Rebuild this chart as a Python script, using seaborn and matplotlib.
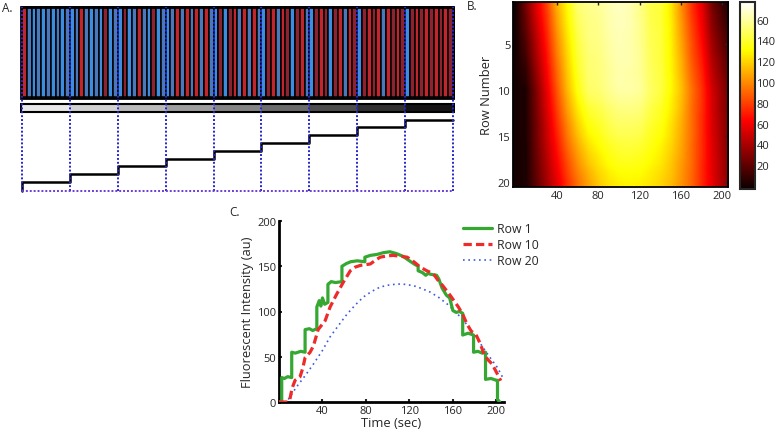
import numpy as np
import pandas as pd
import matplotlib
matplotlib.use("Agg")
import matplotlib.pyplot as plt
from matplotlib.patches import Rectangle
import seaborn as sns

# ---------------- data ----------------
# Panel A: stripe colours per segment (R = red channel, B = blue channel)
segment_patterns = ["RBBBBBBBBB", "BBRBBBBRBB", "BRBBRBBRBB", "BBRBRBRBRB",
                    "BRBRRBRBRB", "BRRBRRBRRB", "BRRRBRRBRR", "BRRRRBRRRR",
                    "BRRRRRRRRR"]
gray_levels = [0.91, 0.82, 0.73, 0.62, 0.52, 0.42, 0.30, 0.19, 0.08]
step_levels = [1, 2, 3, 4, 5, 6, 7, 8, 9]

# Panel B: heat map (rows 1..20, time columns every 10 s)
hm_times = [0, 10, 20, 30, 40, 50, 60, 70, 80, 90, 100, 110, 120, 130, 140,
            150, 160, 170, 180, 190, 200, 210]
hm_rows = [
    [0, 27, 55, 80, 110, 131, 151, 156, 158, 163, 166, 163, 156, 144, 141, 126, 101, 76, 56, 26, 10, 0],
    [0, 24, 52, 77, 107, 129, 149, 155, 157, 162, 165, 163, 156, 145, 141, 126, 102, 78, 58, 29, 13, 2],
    [0, 22, 49, 75, 105, 127, 147, 154, 156, 162, 165, 163, 157, 145, 141, 127, 104, 80, 60, 31, 15, 4],
    [0, 19, 46, 72, 102, 125, 145, 154, 156, 161, 164, 162, 157, 146, 142, 127, 105, 82, 62, 34, 18, 6],
    [0, 16, 43, 70, 99, 123, 143, 153, 155, 160, 164, 162, 157, 146, 142, 128, 107, 84, 64, 37, 20, 8],
    [0, 14, 41, 67, 97, 121, 142, 152, 154, 160, 163, 162, 158, 147, 142, 128, 108, 85, 67, 39, 23, 10],
    [0, 11, 38, 65, 94, 119, 140, 151, 153, 159, 163, 162, 158, 147, 142, 129, 110, 87, 69, 42, 26, 12],
    [0, 8, 35, 62, 91, 117, 138, 151, 153, 158, 162, 161, 158, 148, 143, 129, 111, 89, 71, 45, 28, 14],
    [0, 6, 32, 60, 89, 115, 136, 150, 152, 158, 162, 161, 159, 148, 143, 130, 113, 91, 73, 47, 31, 16],
    [0, 3, 29, 57, 86, 113, 134, 149, 151, 157, 161, 161, 159, 149, 143, 130, 114, 93, 75, 50, 33, 18],
    [0, 3, 28, 55, 83, 109, 130, 145, 148, 154, 158, 158, 156, 147, 141, 128, 113, 93, 75, 51, 34, 19],
    [0, 3, 27, 53, 80, 106, 126, 140, 144, 150, 154, 155, 153, 144, 138, 127, 112, 92, 75, 51, 34, 19],
    [0, 3, 26, 51, 77, 102, 122, 136, 141, 147, 151, 151, 150, 142, 136, 125, 110, 92, 74, 52, 35, 20],
    [0, 3, 25, 49, 74, 98, 118, 132, 137, 144, 148, 148, 147, 139, 134, 123, 109, 92, 74, 52, 36, 21],
    [0, 3, 25, 48, 71, 95, 114, 128, 134, 141, 145, 145, 144, 137, 132, 122, 108, 92, 74, 53, 37, 22],
    [0, 2, 24, 46, 68, 91, 109, 123, 131, 137, 141, 142, 140, 135, 129, 120, 107, 91, 74, 54, 37, 22],
    [0, 2, 23, 44, 65, 87, 105, 119, 127, 134, 138, 139, 137, 132, 127, 118, 106, 91, 74, 54, 38, 23],
    [0, 2, 22, 42, 62, 83, 101, 115, 124, 131, 135, 135, 134, 130, 125, 116, 104, 91, 73, 55, 39, 24],
    [0, 2, 21, 40, 59, 80, 97, 110, 120, 127, 131, 132, 131, 127, 122, 115, 103, 90, 73, 55, 39, 24],
    [0, 2, 20, 38, 56, 76, 93, 106, 117, 124, 128, 129, 128, 125, 120, 113, 102, 90, 73, 56, 40, 25],
]
cbar_ticks = [20, 40, 60, 80, 100, 120, 140, 160]
cbar_labels = ["20", "40", "60", "80", "100", "120", "140", "60"]

# Panel C: intensity traces
row1_t = [0, 2.5, 2.5, 5, 8, 11.7, 11.7, 15, 20, 24, 24, 28, 31, 34.8, 34.8, 37, 38.5,
          40, 42, 45, 45, 48, 52, 57.9, 57.9, 62, 66, 72, 79, 79, 84, 90, 96, 102, 108,
          114, 120, 125, 128, 128, 132, 135, 137, 140, 145, 147, 150, 154, 157, 160, 163,
          166, 169, 169, 174, 179, 179, 183, 187, 190, 190, 195, 200, 201, 201, 203]
row1_v = [0, 0, 27, 26, 28, 27, 55, 54, 56, 55, 80, 81, 79, 81, 105, 112, 106,
          115, 108, 110, 130, 133, 132, 133, 150, 153, 155, 156, 155, 160, 162, 163, 165, 166, 164,
          161, 156, 152, 150, 145, 143, 140, 142, 141, 140, 136, 126, 118, 115, 101, 99,
          100, 98, 74, 76, 74, 55, 56, 54, 55, 25, 26, 24, 24, 3, 0]
row10_t = [0, 8, 10, 12, 14.8, 19.4, 22, 24, 28.6, 31.7, 36, 42.5, 47, 53, 59, 65.6, 70,
           75, 84, 88, 93, 100, 105, 112, 118, 124, 130, 136, 142, 146, 151, 158, 165,
           169, 173, 177, 181, 185, 188.6, 192, 196, 200, 204]
row10_v = [0, 0, 3, 15, 24, 28, 38, 49, 55, 62, 80, 90, 105, 119, 132, 145, 149,
           151, 152.5, 156, 160, 161.5, 162, 161, 160, 155, 149, 145, 141.7, 135, 128, 117, 105,
           97, 86, 78, 75, 65, 53, 47, 42, 33, 23.5]
row20_t = [0, 7, 16, 24, 31.7, 40, 47, 55, 62.5, 70, 77.6, 85, 93, 100, 108.7, 116,
           123.8, 131, 139, 147, 155, 162, 170, 178, 185.6, 193, 201, 205.6]
row20_v = [0, 0, 16.5, 29, 42, 57, 72, 85, 97, 107, 116, 122, 127, 129, 130.4, 130,
           128.5, 125.5, 121.5, 115.5, 108, 100, 90, 77, 64, 51, 38, 27.6]

# ---------------- figure ----------------
sns.set_style("white")
plt.rcParams["font.family"] = ["Open Sans", "DejaVu Sans"]
W, H = 775, 431
fig = plt.figure(figsize=(W / 100, H / 100), dpi=100)


def box(l, t, r, b):
    return [l / W, 1 - b / H, (r - l) / W, (b - t) / H]


# ---- Panel A ----
axA = fig.add_axes(box(20, 6, 455, 194))
axA.set_xlim(-0.42, 90.42)
axA.set_ylim(-2, 186)
axA.axis("off")

colors = {("R", 0): "#c2262d", ("R", 1): "#8c2330",
          ("B", 0): "#3c8ce0", ("B", 1): "#4a78ba"}
stripe_x, stripe_c = [], []
for s, pat in enumerate(segment_patterns):
    for j, ch in enumerate(pat):
        k = s * len(pat) + j
        stripe_x.append(k)
        stripe_c.append(colors[(ch, k % 2)])
axA.bar(stripe_x, 90, width=1.0, bottom=94, align="edge", color=stripe_c,
        edgecolor="black", linewidth=1.1, zorder=2)
axA.add_patch(Rectangle((-0.3, 93.5), 90.6, 91, fill=False, edgecolor="black",
                        linewidth=2.0, zorder=3))

seg_x = [10 * i for i in range(len(gray_levels))]
axA.bar(seg_x, 8, width=10, bottom=79, align="edge",
        color=[str(g) for g in gray_levels], edgecolor="none", zorder=2)
axA.add_patch(Rectangle((-0.3, 79), 90.6, 8, fill=False, edgecolor="black",
                        linewidth=1.5, zorder=3))

bounds = [10 * i for i in range(len(step_levels) + 1)]
step_y = [1.2 + 7.8 * lv for lv in step_levels]
xs = [0, 0] + bounds[1:-1] + [bounds[-1]]
ys = [0] + step_y + [step_y[-1]]
axA.step(xs, ys, where="post", color="black", linewidth=1.8, zorder=4)

axA.vlines(bounds, 0, 184, colors="#2626d0", linestyles=(0, (1, 1)),
           linewidth=1.4, zorder=5)
axA.hlines(0, 0, 90, colors="#6a3cd6", linestyles=(0, (1, 1)), linewidth=1.4,
           zorder=5)

fig.text(2 / W, 1 - 12 / H, "A.", fontsize=8.5, va="baseline", ha="left")
fig.text(467 / W, 1 - 10 / H, "B.", fontsize=8.5, va="baseline", ha="left")
fig.text(229 / W, 1 - 216 / H, "C.", fontsize=8.5, va="baseline", ha="left")

# ---- Panel B ----
axB = fig.add_axes(box(513, 3, 728, 188))
hm = np.array(hm_rows, dtype=float)
im = axB.imshow(hm, cmap="hot", aspect="auto", interpolation="bilinear",
                extent=(hm_times[0] - 5, hm_times[-1] + 5, len(hm_rows) + 0.5, 0.5),
                vmin=-3, vmax=177)
axB.set_xlim(-2.7, 205.8)
axB.set_ylim(20.5, 0.5)
axB.set_xticks([40, 80, 120, 160, 200])
axB.set_yticks([5, 10, 15, 20])
axB.tick_params(direction="in", top=True, right=True, length=2.5, width=1,
                labelsize=8, pad=2)
for sp in axB.spines.values():
    sp.set_linewidth(1.3)
    sp.set_color("black")
axB.set_ylabel("Row Number", fontsize=9.3, labelpad=3)

cax = fig.add_axes(box(740, 3, 755, 190))
cb = fig.colorbar(im, cax=cax)
cb.set_ticks(cbar_ticks)
cb.set_ticklabels(cbar_labels)
cax.tick_params(direction="in", length=2, width=0.8, labelsize=8, pad=1,
                left=True, right=True)
cb.outline.set_linewidth(1.5)

# ---- Panel C ----
axC = fig.add_axes(box(279, 222, 504, 403))
sns.lineplot(x=row1_t, y=row1_v, ax=axC, estimator=None, sort=False,
             color="#35a832", linewidth=2.3, label="Row 1", zorder=3)
sns.lineplot(x=row10_t, y=row10_v, ax=axC, estimator=None, sort=False,
             color="#ee2a2a", linewidth=2.3, label="Row 10", zorder=4)
axC.lines[-1].set_dashes((2.6, 1.3))
sns.lineplot(x=row20_t, y=row20_v, ax=axC, estimator=None, sort=False,
             color="#3b5bdb", linewidth=1.2, label="Row 20", zorder=2)
axC.lines[-1].set_dashes((1, 2.2))

axC.set_xlim(0, 207)
axC.set_ylim(0, 200)
axC.set_xticks([40, 80, 120, 160, 200])
axC.set_yticks([0, 50, 100, 150, 200])
axC.spines["top"].set_visible(False)
axC.spines["right"].set_visible(False)
for side in ("left", "bottom"):
    axC.spines[side].set_linewidth(2)
    axC.spines[side].set_color("black")
axC.tick_params(direction="in", length=2.5, width=1.5, labelsize=8, pad=2,
                left=True, bottom=True)
axC.set_xlabel("Time (sec)", fontsize=9.3, labelpad=0)
axC.set_ylabel("Fluorescent Intensity (au)", fontsize=9.3, labelpad=2)
axC.legend(loc="upper left", bbox_to_anchor=(463 / W, 1 - 223 / H),
           bbox_transform=fig.transFigure, frameon=False, fontsize=8.8,
           handlelength=2.4, labelspacing=0.25, handletextpad=0.35,
           borderpad=0, borderaxespad=0)

fig.savefig("out.png", dpi=100)
